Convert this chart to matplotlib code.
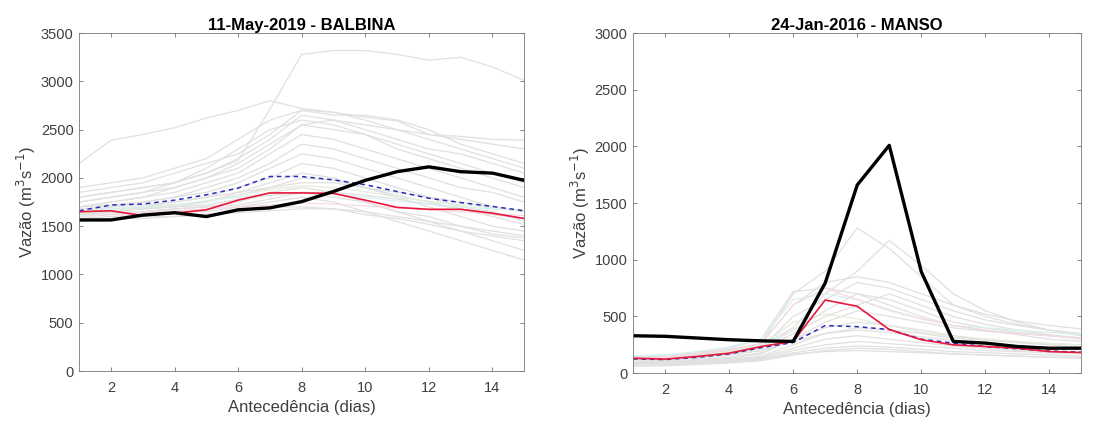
import matplotlib
matplotlib.use("Agg")
from matplotlib import pyplot as plt
import numpy as np

plt.rcParams['font.family'] = ['Liberation Sans', 'DejaVu Sans']

days = np.arange(1, 16)

# ---- BALBINA (11-May-2019) ----
bal_obs = [1565, 1565, 1615, 1640, 1600, 1670, 1690, 1755, 1860, 1975, 2065, 2115, 2065, 2050, 1975]
bal_median = [1650, 1660, 1610, 1635, 1670, 1770, 1845, 1845, 1840, 1770, 1695, 1675, 1675, 1635, 1580]
bal_mean = [1660, 1720, 1730, 1770, 1825, 1895, 2015, 2015, 1980, 1930, 1860, 1790, 1745, 1705, 1660]
bal_members = [
    [2150, 2390, 2450, 2520, 2620, 2700, 2800, 2720, 2680, 2630, 2590, 2450, 2430, 2400, 2390],
    [1800, 1850, 1900, 1950, 2050, 2180, 2710, 3280, 3320, 3320, 3280, 3220, 3250, 3150, 3010],
    [1850, 1900, 1950, 2050, 2150, 2250, 2450, 2700, 2680, 2600, 2500, 2400, 2300, 2200, 2100],
    [1800, 1850, 1900, 1950, 2050, 2200, 2400, 2650, 2600, 2500, 2400, 2300, 2250, 2150, 2050],
    [1750, 1800, 1850, 1900, 2000, 2150, 2350, 2550, 2500, 2450, 2350, 2250, 2150, 2050, 1950],
    [1700, 1750, 1800, 1850, 1950, 2050, 2250, 2450, 2400, 2300, 2200, 2100, 2000, 1900, 1800],
    [1700, 1720, 1750, 1800, 1900, 2000, 2150, 2350, 2300, 2200, 2100, 2000, 1900, 1850, 1750],
    [1650, 1700, 1750, 1800, 1850, 1950, 2100, 2250, 2200, 2100, 2000, 1900, 1800, 1700, 1650],
    [1650, 1680, 1700, 1750, 1800, 1900, 2000, 2150, 2100, 2000, 1900, 1800, 1700, 1650, 1550],
    [1600, 1650, 1680, 1700, 1750, 1850, 1950, 2050, 2000, 1900, 1800, 1700, 1600, 1500, 1450],
    [1600, 1620, 1650, 1680, 1700, 1750, 1850, 1900, 1850, 1750, 1650, 1550, 1450, 1350, 1250],
    [1580, 1600, 1620, 1650, 1650, 1700, 1750, 1800, 1750, 1650, 1550, 1450, 1350, 1250, 1150],
    [1620, 1640, 1650, 1680, 1700, 1720, 1780, 1850, 1800, 1750, 1650, 1600, 1500, 1450, 1400],
    [1550, 1570, 1600, 1600, 1620, 1650, 1700, 1700, 1680, 1620, 1580, 1520, 1450, 1400, 1350],
    [1700, 1750, 1800, 1900, 2000, 2100, 2300, 2550, 2600, 2550, 2500, 2450, 2400, 2350, 2300],
    [1900, 1950, 2000, 2100, 2200, 2400, 2600, 2700, 2650, 2650, 2600, 2500, 2350, 2250, 2150],
    [1680, 1700, 1720, 1750, 1800, 1850, 1900, 1950, 1950, 1900, 1850, 1800, 1750, 1700, 1650],
    [1640, 1660, 1680, 1700, 1720, 1780, 1820, 1850, 1850, 1820, 1780, 1730, 1680, 1620, 1580],
    [1560, 1580, 1580, 1600, 1620, 1640, 1660, 1680, 1680, 1650, 1600, 1550, 1500, 1420, 1380],
    [1750, 1800, 1850, 1950, 2100, 2300, 2500, 2600, 2550, 2450, 2300, 2200, 2100, 2000, 1900],
    [1620, 1650, 1700, 1720, 1760, 1820, 1900, 2000, 1980, 1900, 1820, 1750, 1680, 1600, 1520],
]
bal_tinted = [
    [1650, 1680, 1700, 1720, 1760, 1800, 1840, 1850, 1830, 1800, 1760, 1730, 1700, 1680, 1660],
    [1600, 1620, 1640, 1660, 1680, 1700, 1720, 1740, 1730, 1710, 1690, 1670, 1650, 1630, 1610],
    [1630, 1660, 1690, 1720, 1760, 1820, 1880, 1920, 1900, 1860, 1800, 1760, 1720, 1690, 1660],
]

# ---- MANSO (24-Jan-2016) ----
man_obs = [330, 325, 310, 295, 285, 280, 795, 1660, 2010, 895, 280, 265, 235, 220, 220]
man_median = [132, 124, 147, 176, 235, 280, 645, 590, 385, 295, 250, 235, 220, 190, 182]
man_mean = [125, 120, 140, 170, 225, 270, 420, 410, 385, 300, 265, 235, 215, 195, 185]
man_members = [
    [130, 140, 160, 200, 260, 700, 900, 1280, 1100, 850, 600, 500, 430, 380, 340],
    [120, 130, 150, 180, 240, 400, 700, 900, 1170, 950, 700, 550, 450, 380, 330],
    [150, 160, 180, 220, 300, 720, 750, 700, 600, 500, 420, 380, 340, 300, 280],
    [110, 120, 140, 170, 220, 500, 650, 800, 750, 650, 550, 470, 420, 380, 350],
    [100, 110, 130, 160, 200, 350, 500, 600, 700, 600, 500, 430, 380, 340, 310],
    [100, 100, 110, 130, 170, 300, 400, 450, 420, 380, 330, 300, 270, 250, 230],
    [90, 95, 105, 120, 150, 250, 350, 380, 360, 320, 290, 260, 240, 220, 210],
    [80, 85, 95, 110, 140, 220, 300, 330, 300, 270, 240, 220, 200, 190, 180],
    [90, 90, 100, 110, 130, 200, 250, 280, 260, 240, 220, 200, 190, 180, 170],
    [70, 75, 85, 100, 120, 180, 220, 240, 230, 210, 190, 180, 170, 160, 150],
    [100, 105, 120, 140, 180, 300, 450, 550, 500, 450, 400, 370, 350, 330, 310],
    [140, 150, 170, 200, 260, 600, 800, 850, 800, 700, 600, 520, 460, 420, 390],
    [60, 65, 75, 90, 110, 160, 200, 220, 210, 190, 170, 160, 150, 140, 130],
    [120, 125, 140, 160, 200, 280, 350, 400, 380, 350, 310, 290, 270, 260, 250],
    [80, 80, 90, 100, 120, 170, 190, 200, 190, 180, 170, 160, 150, 140, 140],
    [110, 120, 140, 170, 220, 380, 550, 700, 650, 550, 450, 400, 360, 330, 300],
]
man_tinted = [
    [150, 160, 190, 230, 300, 650, 700, 650, 550, 480, 420, 400, 380, 360, 340],
    [130, 140, 170, 210, 260, 600, 750, 650, 560, 480, 420, 380, 350, 330, 310],
    [110, 120, 150, 190, 240, 450, 520, 480, 420, 360, 320, 300, 280, 260, 250],
]

panels = [
    ('11-May-2019 - BALBINA', bal_members, bal_tinted, bal_mean, bal_median, bal_obs, 3500, [0.072, 0.127, 0.405, 0.795]),
    ('24-Jan-2016 - MANSO', man_members, man_tinted, man_mean, man_median, man_obs, 3000, [0.576, 0.122, 0.408, 0.800]),
]
tint_colors = ['#d6f0f0', '#f5dbe3', '#e0eedb']
txt = '#404040'

fig = plt.figure(figsize=(10.99, 4.25), dpi=100)
for title, members, tinted, mean, median, obs, ymax, pos in panels:
    ax = fig.add_axes(pos)
    for m in members:
        ax.plot(days, m, color='#e0e0e0', lw=0.9)
    for m, c in zip(tinted, tint_colors):
        ax.plot(days, m, color=c, lw=0.9)
    ax.plot(days, mean, color='#2b2bb8', lw=1.1, ls=(0, (3, 2.5)))
    ax.plot(days, median, color='#e8173b', lw=1.2)
    ax.plot(days, obs, color='black', lw=2.4)

    ax.set_xlim(1, 15)
    ax.set_ylim(0, ymax)
    ax.set_xticks([2, 4, 6, 8, 10, 12, 14])
    ax.set_yticks(np.arange(0, ymax + 1, 500))
    ax.tick_params(direction='in', top=True, right=True, length=3, labelsize=10.5,
                   colors='#707070', labelcolor=txt, width=0.6)
    ax.tick_params(axis='x', pad=7)
    ax.tick_params(axis='y', pad=4)
    for s in ax.spines.values():
        s.set_color('#777777')
        s.set_linewidth(0.6)
    ax.set_title(title, fontsize=12, fontweight='bold', color='black', pad=2)
    ax.set_xlabel('Antecedência (dias)', fontsize=12, color=txt, labelpad=4)
    ax.set_ylabel('Vazão (m$^3$s$^{-1}$)', fontsize=12, color=txt, labelpad=2)

plt.savefig('out.png', dpi=100)
plt.close()
